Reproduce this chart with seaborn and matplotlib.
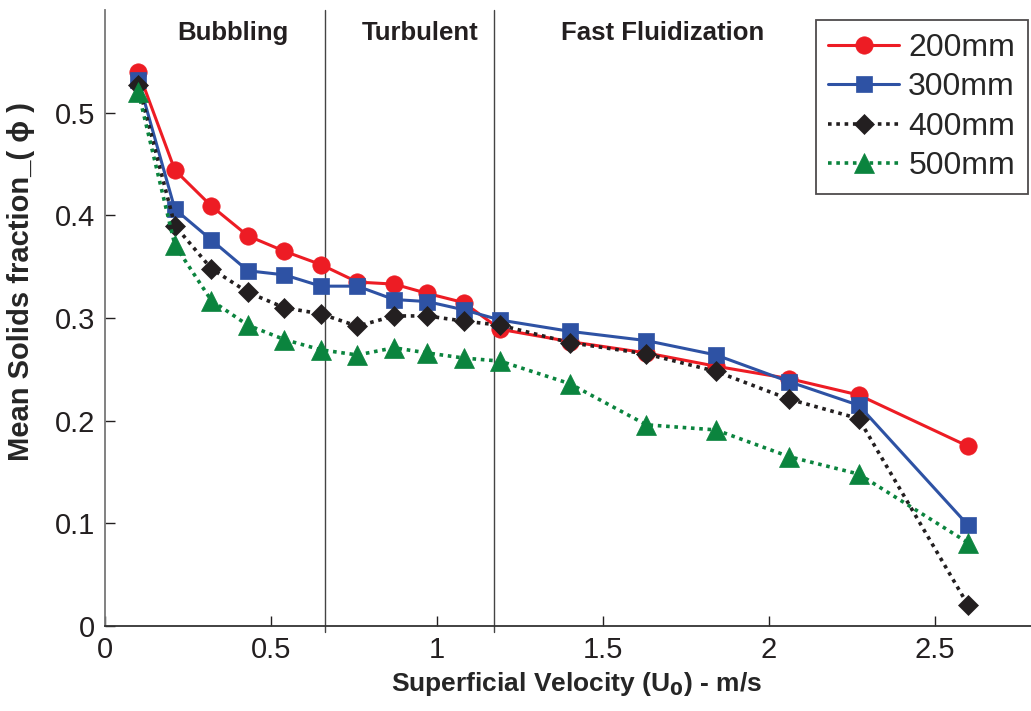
import matplotlib
matplotlib.use("Agg")
import matplotlib.pyplot as plt
import seaborn as sns
import pandas as pd

velocity = [0.10, 0.21, 0.32, 0.43, 0.54, 0.65, 0.76, 0.87, 0.97, 1.08, 1.19,
            1.40, 1.63, 1.84, 2.06, 2.27, 2.60]
s200 = [0.540, 0.444, 0.409, 0.380, 0.365, 0.352, 0.335, 0.333, 0.324, 0.315, 0.289,
        0.277, 0.266, 0.253, 0.241, 0.225, 0.175]
s300 = [0.532, 0.406, 0.376, 0.346, 0.342, 0.331, 0.331, 0.318, 0.316, 0.308, 0.298,
        0.287, 0.278, 0.264, 0.238, 0.215, 0.098]
s400 = [0.527, 0.390, 0.348, 0.325, 0.310, 0.304, 0.292, 0.302, 0.302, 0.297, 0.293,
        0.276, 0.265, 0.248, 0.221, 0.202, 0.020]
s500 = [0.520, 0.371, 0.317, 0.293, 0.279, 0.269, 0.264, 0.271, 0.266, 0.261, 0.258,
        0.236, 0.196, 0.191, 0.165, 0.148, 0.081]
series_names = ["200mm", "300mm", "400mm", "500mm"]
regime_bounds = [0.663, 1.172]
regime_labels = ["Bubbling", "Turbulent", "Fast Fluidization"]
regime_label_x = [0.386, 0.949, 1.678]
xticks = [0, 0.5, 1, 1.5, 2, 2.5]
xtick_labels = ["0", "0.5", "1", "1.5", "2", "2.5"]
yticks = [0, 0.1, 0.2, 0.3, 0.4, 0.5]
ytick_labels = ["0", "0.1", "0.2", "0.3", "0.4", "0.5"]

rows = []
for name, vals in zip(series_names, [s200, s300, s400, s500]):
    for v, y in zip(velocity, vals):
        rows.append({"velocity": v, "phi": y, "series": name})
df = pd.DataFrame(rows)

sns.set_style("white")
plt.rcParams["font.family"] = ["Liberation Sans", "DejaVu Sans"]

fig = plt.figure(figsize=(10.31, 7.11), dpi=100)
ax = fig.add_axes([0.102, 0.1195, 0.898, 0.8665])

dot = (0, (1.0, 1.3))
styles = {
    "200mm": dict(color="#ed1c24", marker="o", linestyle="-", markersize=12.5, lw=2.2),
    "300mm": dict(color="#2e52a4", marker="s", linestyle="-", markersize=11, lw=2.2),
    "400mm": dict(color="#231f20", marker="D", linestyle=dot, markersize=10.5, lw=2.6),
    "500mm": dict(color="#0b843e", marker="^", linestyle=dot, markersize=15, lw=2.6),
}
for name in series_names:
    st = styles[name]
    sub = df[df["series"] == name]
    sns.lineplot(data=sub, x="velocity", y="phi", ax=ax, label=name,
                 color=st["color"], marker=st["marker"], linestyle=st["linestyle"],
                 markersize=st["markersize"], linewidth=st["lw"],
                 markeredgecolor=st["color"], markeredgewidth=0.5,
                 estimator=None, sort=False)

for b in regime_bounds:
    ax.axvline(b, ymin=-0.01, ymax=1, color="#444444", linewidth=1.0, zorder=0,
               clip_on=False)

for lbl, lx in zip(regime_labels, regime_label_x):
    ax.text(lx, 0.578, lbl, ha="center", va="center", fontsize=18.5,
            fontweight="bold", color="#231f20")

ax.set_xlim(0, 2.789)
ax.set_ylim(0, 0.6)
ax.set_xticks(xticks)
ax.set_xticklabels(xtick_labels)
ax.set_yticks(yticks)
ax.set_yticklabels(ytick_labels)
ax.tick_params(direction="in", length=7, width=1, labelsize=21, colors="#231f20",
               pad=7, bottom=True, left=True)
for side in ["top", "right"]:
    ax.spines[side].set_visible(False)
ax.spines["left"].set_color("#777777")
ax.spines["bottom"].set_color("#333333")
for side in ["left", "bottom"]:
    ax.spines[side].set_linewidth(1.3)

ax.set_xlabel("Superficial Velocity (U$_\\mathbf{0}$) - m/s", fontsize=19,
              fontweight="bold")
ax.xaxis.set_label_coords(0.509, -0.072)
ax.set_ylabel("Mean Solids fraction_( \u03d5 )", fontsize=21, fontweight="bold")
ax.yaxis.set_label_coords(-0.076, 0.56)

leg = ax.legend(loc="upper right", bbox_to_anchor=(0.997, 0.972),
                bbox_transform=fig.transFigure, fontsize=23,
                frameon=True, fancybox=False, edgecolor="#231f20",
                handlelength=2.2, borderpad=0.4, labelspacing=0.3,
                handletextpad=0.3, borderaxespad=0)
leg.get_frame().set_linewidth(1.3)

fig.savefig("out.png", dpi=100)
